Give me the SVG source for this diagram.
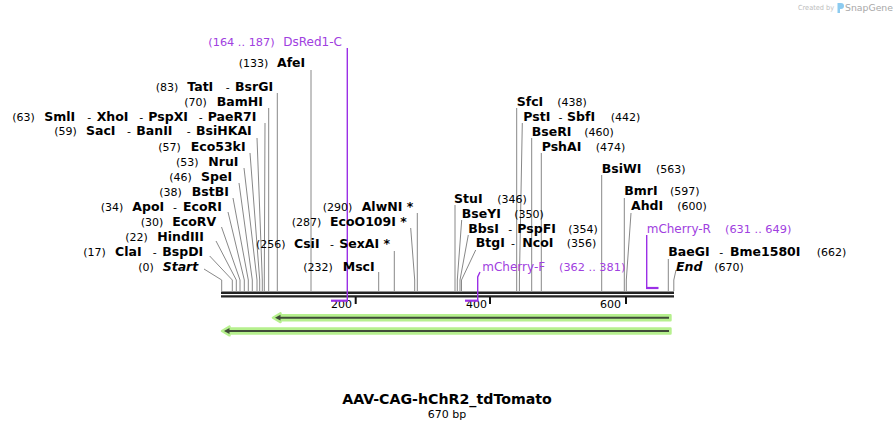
<svg xmlns="http://www.w3.org/2000/svg" width="896" height="430" viewBox="0 0 896 430">
<style>
text{font-family:"DejaVu Sans","Verdana",sans-serif;}
.n{font-size:12.5px;font-weight:bold;fill:#000;}
.i{font-style:italic;}
.p{font-size:11px;fill:#000;}
.d{font-size:11px;fill:#000;}
.pr{fill:#a040e0;}
.ln{stroke:#888;stroke-width:1;fill:none;}
.pl{stroke:#9b2fe6;fill:none;}
.bb{stroke:#222;}
.tk{stroke:#111;stroke-width:2;}
.glow{fill:#b6f08e;stroke:#b6f08e;stroke-width:2.4;stroke-linejoin:round;}
.core{stroke:#3f4b38;stroke-width:2;}
.coreh{fill:#3f4b38;}
</style>
<rect width="896" height="430" fill="#fff"/>

<!-- watermark -->
<g id="watermark">
<text x="798" y="10" font-size="7" fill="#bdbdbd" textLength="36" lengthAdjust="spacingAndGlyphs">Created by</text>
<path d="M837.5 3 h3.5 a3 3 0 0 1 0 6 h-1 v4 h-2.5 z" fill="#8ccbf0"/>
<text x="845" y="11" font-size="9.5" fill="#a8a8a8" textLength="48" lengthAdjust="spacingAndGlyphs">SnapGene</text>
</g>

<!-- connectors -->
<g id="connectors">
<!-- left fan -->
<path class="ln" d="M277.3 93 V291"/>
<path class="ln" d="M268.7 108 V291"/>
<path class="ln" d="M265 123 L264.3 280 V291"/>
<path class="ln" d="M257 138 L262.3 280 V291"/>
<path class="ln" d="M250 153 L259.7 280 V291"/>
<path class="ln" d="M244 168 L257 280 V291"/>
<path class="ln" d="M239 183 L252.3 280 V291"/>
<path class="ln" d="M233 198 L248.3 280 V291"/>
<path class="ln" d="M228 212 L244.3 280 V291"/>
<path class="ln" d="M221.5 227 L240 280 V291"/>
<path class="ln" d="M216 241 L236.3 280 V291"/>
<path class="ln" d="M209.7 256 L232.3 280 V291"/>
<path class="ln" d="M204 269 L221.7 280 V291"/>
<!-- middle -->
<path class="ln" d="M311 70 V291"/>
<path class="ln" d="M417.3 213 V291"/>
<path class="ln" d="M410.7 228 L414.7 280 V291"/>
<path class="ln" d="M394.3 251 V291"/>
<path class="ln" d="M378.7 272 V291"/>
<!-- right -->
<path class="ln" d="M455 205 V291"/>
<path class="ln" d="M461.7 220 L457.3 280 V291"/>
<path class="ln" d="M468.3 235 L460 280 V291"/>
<path class="ln" d="M475.7 250 L461.5 280 V291"/>
<path class="ln" d="M516.7 108 V291"/>
<path class="ln" d="M522.3 123 L519.4 280 V291"/>
<path class="ln" d="M531.7 138 V291"/>
<path class="ln" d="M541.3 153 V291"/>
<path class="ln" d="M601.7 175 V291"/>
<path class="ln" d="M624.3 198 V291"/>
<path class="ln" d="M631 213 L626.3 280 V291"/>
<path class="ln" d="M668.3 259 V291"/>
<path class="ln" d="M676 270 L673.8 280 V291"/>
</g>

<!-- backbone -->
<g id="backbone">
<line class="bb" x1="221" y1="292.8" x2="674" y2="292.8" stroke-width="2.6"/>
<line class="bb" x1="221" y1="296.3" x2="674" y2="296.3" stroke-width="2.3"/>
<line class="tk" x1="355.7" y1="297" x2="355.7" y2="304"/>
<line class="tk" x1="490" y1="297" x2="490" y2="304"/>
<line class="tk" x1="626" y1="297" x2="626" y2="304"/>
<text class="p" x="352" y="308" text-anchor="end">200</text>
<text class="p" x="487" y="308" text-anchor="end">400</text>
<text class="p" x="621" y="308" text-anchor="end">600</text>
</g>

<!-- primers -->
<g id="primer-DsRed1-C">
<path class="pl" d="M347.3 48 V300" stroke-width="1.4"/>
<line class="pl" x1="331" y1="300.7" x2="348" y2="300.7" stroke-width="2.2"/>
<text class="pr" x="208.3" y="46" font-size="11.3">(164 .. 187)</text>
<text class="pr" x="283.3" y="46" font-size="12">DsRed1-C</text>
</g>
<g id="primer-mCherry-F">
<path class="pl" d="M477.7 300 V277 L480 272" stroke-width="1.4"/>
<line class="pl" x1="465" y1="300.7" x2="478.5" y2="300.7" stroke-width="2.2"/>
<text class="pr" x="482.3" y="270.7" font-size="12">mCherry-F</text>
<text class="pr" x="559" y="270.7" font-size="11.3">(362 .. 381)</text>
</g>
<g id="primer-mCherry-R">
<path class="pl" d="M646.7 235 V288" stroke-width="1.4"/>
<line class="pl" x1="646" y1="288" x2="658.5" y2="288" stroke-width="2.2"/>
<text class="pr" x="646.7" y="233.3" font-size="12">mCherry-R</text>
<text class="pr" x="725" y="233.3" font-size="11.3">(631 .. 649)</text>
</g>

<!-- features -->
<g id="feature-1">
<polygon class="glow" points="273,317.7 280.5,313.3 280.5,315.2 670.5,315.2 670.5,320.2 280.5,320.2 280.5,322.1"/>
<line class="core" x1="279" y1="317.7" x2="669" y2="317.7"/>
<polygon class="coreh" points="275,317.7 280.5,314.8 280.5,320.6"/>
</g>
<g id="feature-2">
<polygon class="glow" points="222,331 229.5,326.6 229.5,328.5 670.5,328.5 670.5,333.5 229.5,333.5 229.5,335.4"/>
<line class="core" x1="228" y1="331" x2="669" y2="331"/>
<polygon class="coreh" points="224,331 229.5,328.1 229.5,333.9"/>
</g>

<!-- left cluster labels -->
<g id="AfeI"><text class="p" x="238.7" y="67">(133)</text><text class="n" x="277" y="67">AfeI</text></g>
<g id="TatI"><text class="p" x="155.7" y="91">(83)</text><text class="n" x="187.3" y="91">TatI</text><text class="d" x="225.7" y="91">-</text><text class="n" x="235" y="91">BsrGI</text></g>
<g id="BamHI"><text class="p" x="184.3" y="105.5">(70)</text><text class="n" x="216.7" y="105.5">BamHI</text></g>
<g id="SmlI"><text class="p" x="12.3" y="120.5">(63)</text><text class="n" x="44.3" y="120.5">SmlI</text><text class="d" x="87.3" y="120.5">-</text><text class="n" x="96.7" y="120.5">XhoI</text><text class="d" x="139.3" y="120.5">-</text><text class="n" x="148.3" y="120.5">PspXI</text><text class="d" x="198.7" y="120.5">-</text><text class="n" x="207.7" y="120.5">PaeR7I</text></g>
<g id="SacI"><text class="p" x="54.3" y="135.3">(59)</text><text class="n" x="86" y="135.3">SacI</text><text class="d" x="127" y="135.3">-</text><text class="n" x="136.3" y="135.3">BanII</text><text class="d" x="186.7" y="135.3">-</text><text class="n" x="196" y="135.3">BsiHKAI</text></g>
<g id="Eco53kI"><text class="p" x="158.3" y="150.5">(57)</text><text class="n" x="190.7" y="150.5">Eco53kI</text></g>
<g id="NruI"><text class="p" x="176" y="165.7">(53)</text><text class="n" x="208.3" y="165.7">NruI</text></g>
<g id="SpeI"><text class="p" x="169.3" y="180.7">(46)</text><text class="n" x="201" y="180.7">SpeI</text></g>
<g id="BstBI"><text class="p" x="159.3" y="195.7">(38)</text><text class="n" x="191.7" y="195.7">BstBI</text></g>
<g id="ApoI"><text class="p" x="100.7" y="210.7">(34)</text><text class="n" x="132.3" y="210.7">ApoI</text><text class="d" x="173" y="210.7">-</text><text class="n" x="183" y="210.7">EcoRI</text></g>
<g id="EcoRV"><text class="p" x="140.7" y="225.7">(30)</text><text class="n" x="172.3" y="225.7">EcoRV</text></g>
<g id="HindIII"><text class="p" x="125.3" y="240.7">(22)</text><text class="n" x="157.3" y="240.7">HindIII</text></g>
<g id="ClaI"><text class="p" x="83.3" y="255.7">(17)</text><text class="n" x="115" y="255.7">ClaI</text><text class="d" x="152.7" y="255.7">-</text><text class="n" x="162.3" y="255.7">BspDI</text></g>
<g id="Start"><text class="p" x="138.3" y="270.7">(0)</text><text class="n i" x="162.7" y="270.7">Start</text></g>

<!-- middle labels -->
<g id="AlwNI"><text class="p" x="322.7" y="210.7">(290)</text><text class="n" x="361.7" y="210.7">AlwNI *</text></g>
<g id="EcoO109I"><text class="p" x="291.7" y="225.7">(287)</text><text class="n" x="330" y="225.7">EcoO109I *</text></g>
<g id="CsiI"><text class="p" x="256" y="247.7">(256)</text><text class="n" x="294" y="247.7">CsiI</text><text class="d" x="330" y="247.7">-</text><text class="n" x="339.3" y="247.7">SexAI *</text></g>
<g id="MscI"><text class="p" x="303.3" y="271">(232)</text><text class="n" x="342.7" y="271">MscI</text></g>

<!-- right labels -->
<g id="SfcI"><text class="n" x="516.7" y="105.7">SfcI</text><text class="p" x="557.3" y="105.7">(438)</text></g>
<g id="PstI"><text class="n" x="523.3" y="120.7">PstI</text><text class="d" x="558.5" y="120.7">-</text><text class="n" x="567" y="120.7">SbfI</text><text class="p" x="610.7" y="120.7">(442)</text></g>
<g id="BseRI"><text class="n" x="531.7" y="135.7">BseRI</text><text class="p" x="584.3" y="135.7">(460)</text></g>
<g id="PshAI"><text class="n" x="541.7" y="150.7">PshAI</text><text class="p" x="595.7" y="150.7">(474)</text></g>
<g id="BsiWI"><text class="n" x="601.7" y="172.7">BsiWI</text><text class="p" x="656" y="172.7">(563)</text></g>
<g id="BmrI"><text class="n" x="624.3" y="195">BmrI</text><text class="p" x="670" y="195">(597)</text></g>
<g id="AhdI"><text class="n" x="631" y="210">AhdI</text><text class="p" x="677.3" y="210">(600)</text></g>
<g id="StuI"><text class="n" x="454" y="202.5">StuI</text><text class="p" x="497.3" y="202.5">(346)</text></g>
<g id="BseYI"><text class="n" x="461.7" y="217.7">BseYI</text><text class="p" x="514.3" y="217.7">(350)</text></g>
<g id="BbsI"><text class="n" x="468.3" y="232.7">BbsI</text><text class="d" x="508.3" y="232.7">-</text><text class="n" x="517.3" y="232.7">PspFI</text><text class="p" x="568.3" y="232.7">(354)</text></g>
<g id="BtgI"><text class="n" x="475.7" y="246.7">BtgI</text><text class="d" x="511" y="246.7">-</text><text class="n" x="522.3" y="246.7">NcoI</text><text class="p" x="566.7" y="246.7">(356)</text></g>
<g id="BaeGI"><text class="n" x="668.3" y="256">BaeGI</text><text class="d" x="719.3" y="256">-</text><text class="n" x="730" y="256">Bme1580I</text><text class="p" x="816.7" y="256">(662)</text></g>
<g id="End"><text class="n i" x="676" y="270.7">End</text><text class="p" x="714.3" y="270.7">(670)</text></g>

<!-- title -->
<g id="title">
<text x="447" y="404" text-anchor="middle" font-size="14.2" font-weight="bold" fill="#000">AAV-CAG-hChR2_tdTomato</text>
<text x="447" y="418" text-anchor="middle" font-size="11" fill="#000">670 bp</text>
</g>
</svg>
